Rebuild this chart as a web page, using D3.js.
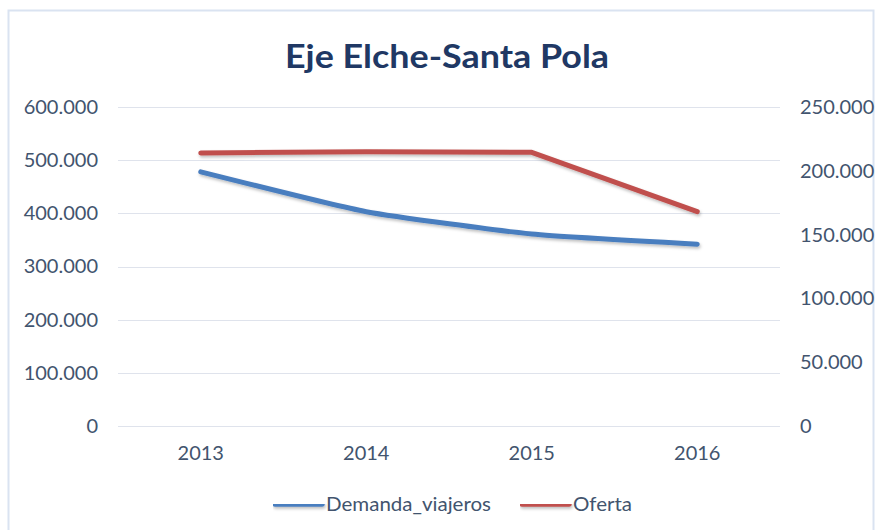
<!DOCTYPE html>
<html>
<head>
<meta charset="utf-8">
<script src="https://cdn.jsdelivr.net/npm/d3@7"></script>
<style>
  body { margin: 0; background: #fff; }
  text { font-family: Lato, "Open Sans", sans-serif; }
</style>
</head>
<body>
<svg id="chart" width="876" height="530"></svg>
<script>
// data
var years = ['2013', '2014', '2015', '2016']
var demanda = [478000, 403000, 361000, 342000]   // left axis
var oferta = [214000, 215000, 214500, 168000]    // right axis
var leftTicks = [0, 100000, 200000, 300000, 400000, 500000, 600000]
var rightTicks = [0, 50000, 100000, 150000, 200000, 250000]

var width = 876, height = 530
var plot = {left: 118, right: 780, top: 107, bottom: 426}
var textColor = '#42546e'

var svg = d3.select('#chart')

// drop shadow for the lines
var defs = svg.append('defs')
var f = defs.append('filter').attr('id', 'shadow')
    .attr('filterUnits', 'userSpaceOnUse')
    .attr('x', 0).attr('y', 0).attr('width', width).attr('height', height)
f.append('feDropShadow').attr('dx', 1).attr('dy', 2).attr('stdDeviation', 1.5)
    .attr('flood-color', '#000').attr('flood-opacity', 0.25)

// chart border
svg.append('rect')
    .attr('x', 8.5).attr('y', 10.5).attr('width', 865).attr('height', 530)
    .attr('fill', '#fff').attr('stroke', '#dae3f1').attr('stroke-width', 2)

var x = d3.scaleBand().domain(years).range([plot.left, plot.right])
var yL = d3.scaleLinear().domain([0, 600000]).range([plot.bottom, plot.top])
var yR = d3.scaleLinear().domain([0, 250000]).range([plot.bottom, plot.top])

var fmt = d => d === 0 ? '0' : d3.format(',')(d).replace(/,/g, '.')

// gridlines
svg.append('g').selectAll('line')
    .data(leftTicks)
    .enter().append('line')
    .attr('x1', plot.left).attr('x2', plot.right)
    .attr('y1', d => Math.round(yL(d)) + 0.5)
    .attr('y2', d => Math.round(yL(d)) + 0.5)
    .attr('stroke', '#dfe3ec').attr('stroke-width', 1)

// left axis
var axL = svg.append('g')
    .attr('transform', 'translate(' + (plot.left - 20) + ',0)')
    .call(d3.axisLeft(yL).tickValues(leftTicks).tickFormat(fmt).tickSize(0).tickPadding(0))
axL.select('.domain').remove()

// right axis
var axR = svg.append('g')
    .attr('transform', 'translate(' + (plot.right + 20) + ',0)')
    .call(d3.axisRight(yR).tickValues(rightTicks).tickFormat(fmt).tickSize(0).tickPadding(0))
axR.select('.domain').remove()

// x axis
var axX = svg.append('g')
    .attr('transform', 'translate(0,' + (plot.bottom + 20) + ')')
    .call(d3.axisBottom(x).tickSize(0).tickPadding(0))
axX.select('.domain').remove()

svg.selectAll('.tick text')
    .attr('fill', textColor).attr('font-size', 20)
    .style('font-family', 'Lato, sans-serif')
axX.selectAll('.tick text').attr('dy', '0.71em')

var cx = d => x(d) + x.bandwidth() / 2

var blueLine = d3.line()
    .x((d, i) => cx(years[i]))
    .y(d => yL(d))
    .curve(d3.curveCardinal.tension(0.5))

var redLine = d3.line()
    .x((d, i) => cx(years[i]))
    .y(d => yR(d))

svg.append('path')
    .datum(demanda)
    .attr('d', blueLine)
    .attr('fill', 'none').attr('stroke', '#4a7ebf').attr('stroke-width', 5)
    .attr('stroke-linecap', 'round').attr('stroke-linejoin', 'round')
    .attr('filter', 'url(#shadow)')

svg.append('path')
    .datum(oferta)
    .attr('d', redLine)
    .attr('fill', 'none').attr('stroke', '#c0504d').attr('stroke-width', 5)
    .attr('stroke-linecap', 'round').attr('stroke-linejoin', 'round')
    .attr('filter', 'url(#shadow)')

// title
svg.append('text')
    .attr('x', 447).attr('y', 68)
    .attr('text-anchor', 'middle')
    .attr('font-size', 33).attr('font-weight', 'bold')
    .attr('fill', '#203864')
    .attr('textLength', 324).attr('lengthAdjust', 'spacingAndGlyphs')
    .text('Eje Elche-Santa Pola')

// legend
var legend = [
    {name: 'Demanda_viajeros', color: '#4a7ebf', x: 273, w: 165},
    {name: 'Oferta', color: '#c0504d', x: 520, w: 59}
]
var lg = svg.append('g').selectAll('g')
    .data(legend)
    .enter().append('g')
    .attr('transform', d => 'translate(' + d.x + ',504)')

lg.append('line')
    .attr('x1', 2).attr('x2', 49)
    .attr('stroke', d => d.color).attr('stroke-width', 5.5)
    .attr('stroke-linecap', 'round')
    .attr('filter', 'url(#shadow)')

lg.append('text')
    .attr('x', 53).attr('dy', '0.35em')
    .attr('font-size', 20).attr('fill', textColor)
    .attr('textLength', d => d.w).attr('lengthAdjust', 'spacingAndGlyphs')
    .text(d => d.name)
</script>
</body>
</html>
